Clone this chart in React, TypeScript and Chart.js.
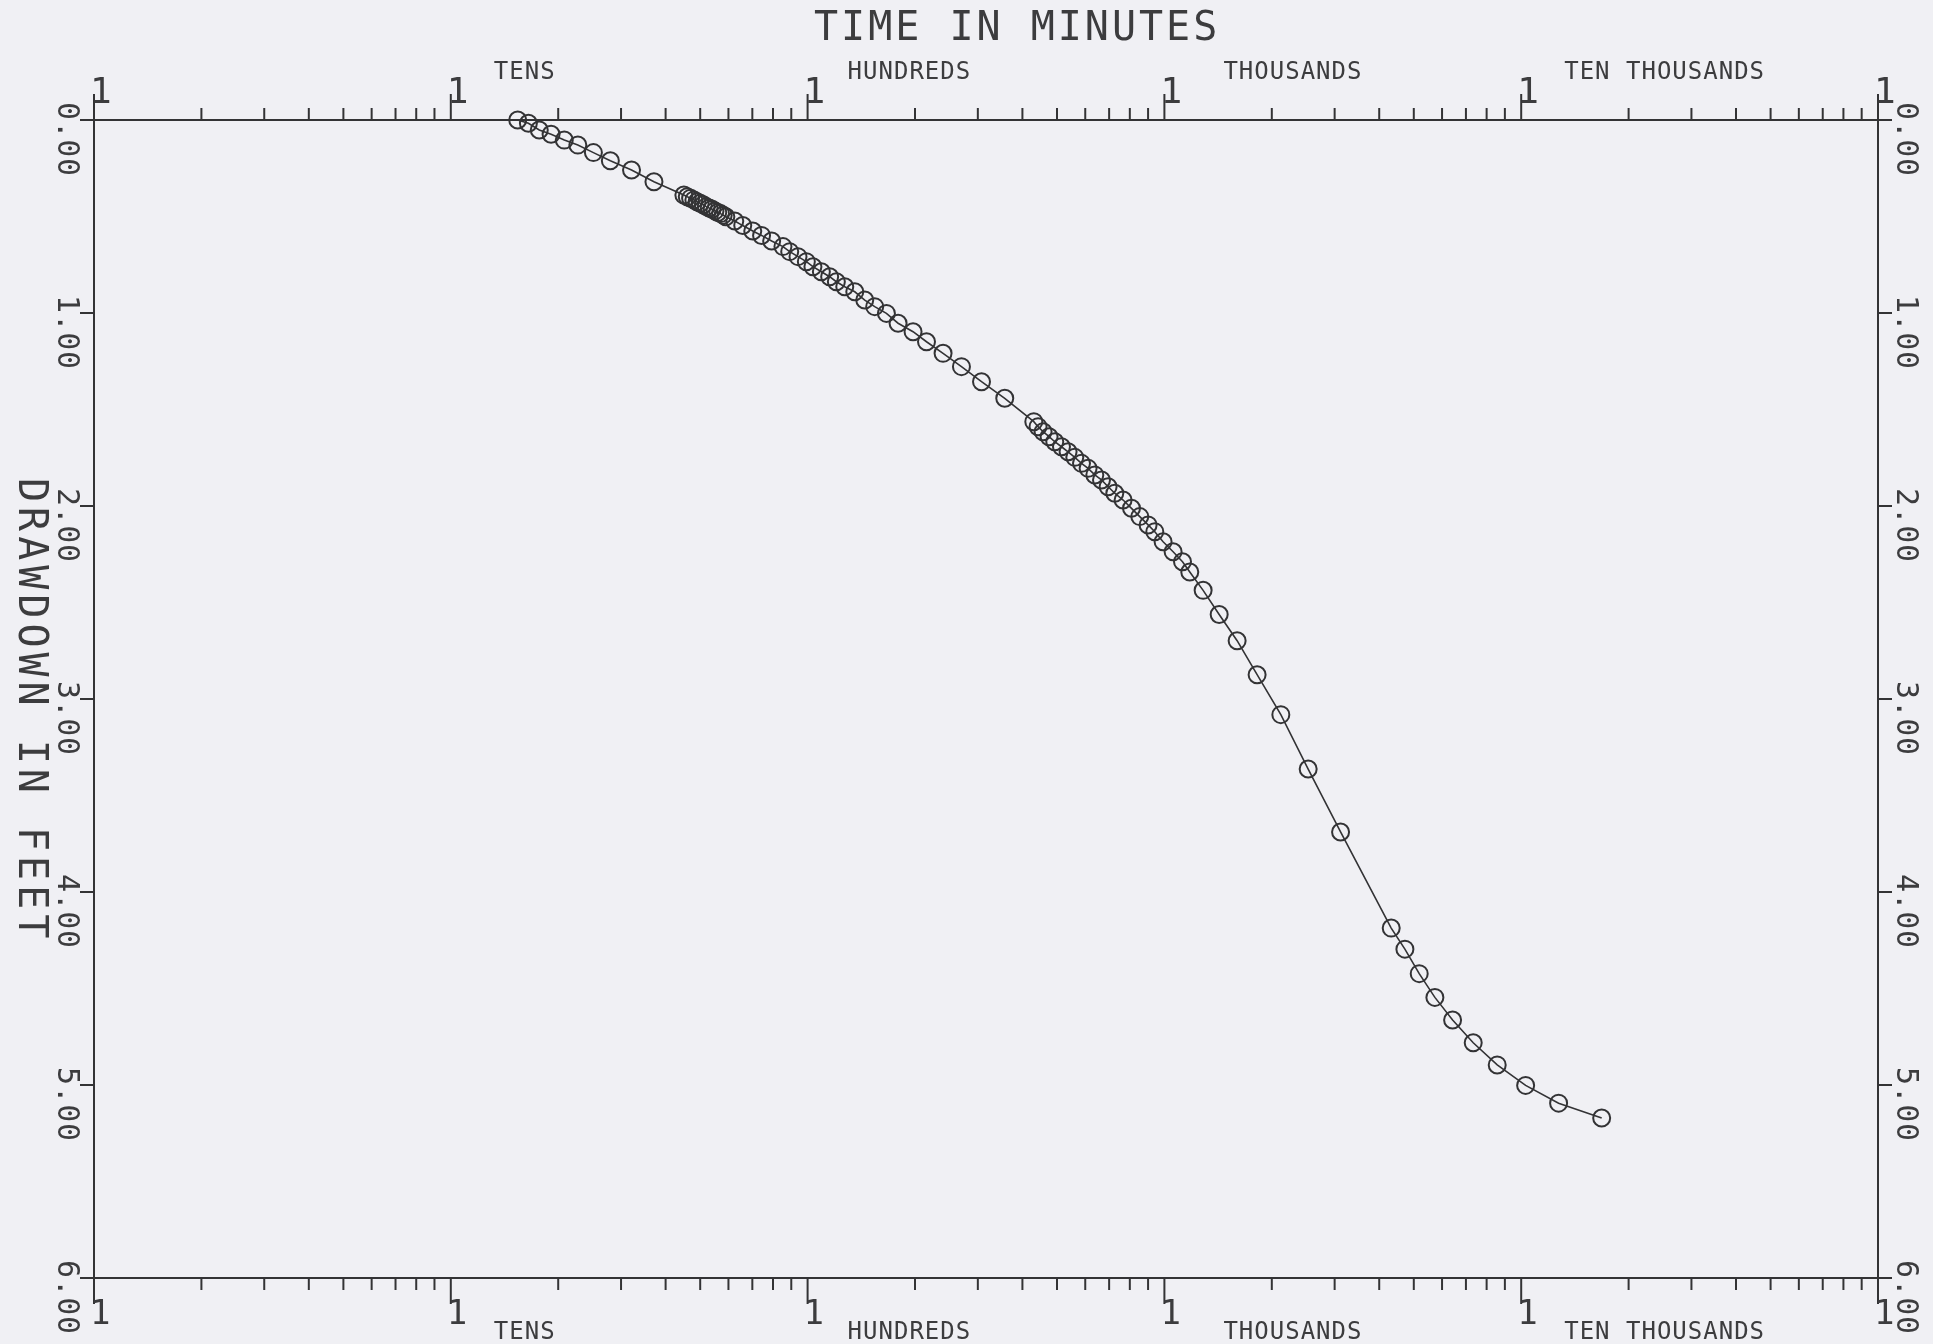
import React, { useEffect, useRef } from "react";
import { Chart, registerables } from "chart.js";

Chart.register(...registerables);

// ---- data ----
const timeMinutes: number[] = [
  15.4, 16.5, 17.7, 19.1, 20.8, 22.7, 25.1, 28.0, 32.1, 37.1,
  45, 46, 47, 48, 49, 50, 51, 52, 53, 54, 55, 56, 57, 58, 59,
  62.5, 65.8, 70.2, 74.3, 79.3,
  85.3, 89.1, 94.0, 99.2, 103.5, 109.3, 115.3, 120.4, 127.1, 135.6,
  144.6, 154.2, 166.3, 179.3, 197.5, 215.4, 239.7, 269.9, 307.2, 356.9, 430.5,
  442.5, 457.1, 475.1, 492.9, 514.7, 537.1, 560.9, 585.7, 611.2, 638.2,
  666.4, 695.4, 726.1, 766.1, 808.8, 853.2, 900.2, 939.9, 991.6, 1057.8, 1124, 1178,
  1284, 1424, 1599, 1819, 2120, 2529, 3117, 4322, 4721, 5178,
  5729, 6423, 7337, 8566, 10290, 12730, 16810,
];

const drawdownFeet: number[] = [
  0.0, 0.017, 0.052, 0.074, 0.104, 0.13, 0.169, 0.211, 0.259, 0.32,
  0.389, 0.398, 0.405, 0.414, 0.424, 0.431, 0.439, 0.449, 0.456, 0.462, 0.471, 0.479, 0.485, 0.493, 0.501,
  0.523, 0.547, 0.575, 0.598, 0.627,
  0.656, 0.682, 0.708, 0.734, 0.76, 0.786, 0.812, 0.838, 0.864, 0.89,
  0.933, 0.967, 1.002, 1.053, 1.097, 1.149, 1.209, 1.278, 1.356, 1.442, 1.563,
  1.589, 1.615, 1.641, 1.667, 1.693, 1.719, 1.748, 1.779, 1.805, 1.839,
  1.865, 1.9, 1.934, 1.969, 2.012, 2.055, 2.098, 2.133, 2.185, 2.237, 2.289, 2.342,
  2.437, 2.562, 2.698, 2.874, 3.081, 3.363, 3.689, 4.187, 4.296, 4.423,
  4.546, 4.663, 4.781, 4.896, 5.002, 5.094, 5.171,
];

const xDecades: number[] = [1, 10, 100, 1000, 10000, 100000];
const decadeNames: string[] = ["TENS", "HUNDREDS", "THOUSANDS", "TEN THOUSANDS"];
const decadeTickLabel = "1";
const yTicks: number[] = [0, 1, 2, 3, 4, 5, 6];
const yTickLabels: string[] = ["0.00", "1.00", "2.00", "3.00", "4.00", "5.00", "6.00"];
const xTitle = "TIME IN MINUTES";
const yTitle = "DRAWDOWN IN FEET";

// ---- styling ----
const INK = "#333335";
const TEXT_INK = "#3c3c3e";
const PAPER = "#f0f0f4";
const FONT = "'DejaVu Sans Mono', 'Liberation Mono', monospace";

function text(
  ctx: CanvasRenderingContext2D,
  s: string,
  x: number,
  y: number,
  size: number,
  spacing: number,
  rotate = false
) {
  ctx.save();
  ctx.translate(x, y);
  if (rotate) ctx.rotate(Math.PI / 2);
  ctx.font = `${size}px ${FONT}`;
  (ctx as any).letterSpacing = `${spacing}px`;
  ctx.textAlign = "left";
  ctx.textBaseline = "alphabetic";
  ctx.fillStyle = TEXT_INK;
  ctx.fillText(s, 0, 0);
  ctx.restore();
}

const furniture = {
  id: "furniture",
  beforeDraw(chart: any) {
    const ctx = chart.ctx as CanvasRenderingContext2D;
    ctx.save();
    ctx.fillStyle = PAPER;
    ctx.fillRect(0, 0, chart.width, chart.height);
    ctx.restore();
  },
  afterDraw(chart: any) {
    const ctx = chart.ctx as CanvasRenderingContext2D;
    const { left, right, top, bottom } = chart.chartArea;
    const xs = chart.scales.x;
    const ys = chart.scales.y;
    ctx.save();
    ctx.strokeStyle = INK;
    ctx.lineWidth = 2;
    ctx.lineCap = "butt";

    const seg = (x1: number, y1: number, x2: number, y2: number) => {
      ctx.beginPath();
      ctx.moveTo(x1, y1);
      ctx.lineTo(x2, y2);
      ctx.stroke();
    };

    // frame
    seg(left, top, right, top);
    seg(left, bottom, right, bottom);
    seg(left, top, left, bottom);
    seg(right, top, right, bottom);

    // x ticks (outside, top and bottom)
    const MAJ = 26;
    const MIN = 12;
    xDecades.forEach((d, i) => {
      const px = xs.getPixelForValue(d);
      seg(px, top, px, top - MAJ);
      seg(px, bottom, px, bottom + MAJ);
      text(ctx, decadeTickLabel, px - 4, top - 17, 36, 0);
      text(ctx, decadeTickLabel, px - 4, bottom + 46, 34, 0);
      if (i < xDecades.length - 1) {
        for (let m = 2; m <= 9; m++) {
          const pm = xs.getPixelForValue(d * m);
          seg(pm, top, pm, top - MIN);
          seg(pm, bottom, pm, bottom + MIN);
        }
      }
    });

    // y ticks (outside, left and right) with rotated labels
    yTicks.forEach((v, i) => {
      const py = ys.getPixelForValue(v);
      seg(left, py, left - 14, py);
      seg(right, py, right + 14, py);
      text(ctx, yTickLabels[i], 58, py - 18, 30, 0.6, true);
      text(ctx, yTickLabels[i], right + 19, py - 18, 30, 0.6, true);
    });

    // decade names, top and bottom
    const nameOffset = [43, 40, 59, 43];
    decadeNames.forEach((name, i) => {
      const px = xs.getPixelForValue(xDecades[i + 1]) + nameOffset[i];
      text(ctx, name, px, top - 41, 24, 1);
      text(ctx, name, px, bottom + 61, 24, 1);
    });

    // titles
    text(ctx, xTitle, 814, 40, 40, 3);
    text(ctx, yTitle, 19, 478, 40, 5, true);

    ctx.restore();
  },
};

export default function App() {
  const ref = useRef<HTMLCanvasElement | null>(null);

  useEffect(() => {
    if (!ref.current) return;
    const chart = new Chart(ref.current, {
      type: "scatter",
      data: {
        datasets: [
          {
            data: timeMinutes.map((t, i) => ({ x: t, y: drawdownFeet[i] })),
            showLine: true,
            borderColor: INK,
            borderWidth: 1.6,
            pointRadius: 8.5,
            pointBorderWidth: 2,
            pointBackgroundColor: "rgba(0,0,0,0)",
            pointBorderColor: INK,
            pointStyle: "circle",
            tension: 0,
            clip: false as any,
          },
        ],
      },
      options: {
        responsive: false,
        animation: false,
        devicePixelRatio: 1,
        layout: { padding: { left: 94, right: 55, top: 120, bottom: 66 } },
        plugins: {
          legend: { display: false },
          tooltip: { enabled: false },
        },
        scales: {
          x: { type: "logarithmic", min: 1, max: 100000, display: false },
          y: { type: "linear", min: 0, max: 6, reverse: true, display: false },
        },
      },
      plugins: [furniture],
    });
    return () => chart.destroy();
  }, []);

  return (
    <div style={{ position: "absolute", left: 0, top: 0, width: 1933, height: 1344 }}>
      <canvas ref={ref} width={1933} height={1344} style={{ width: 1933, height: 1344, display: "block" }} />
    </div>
  );
}
